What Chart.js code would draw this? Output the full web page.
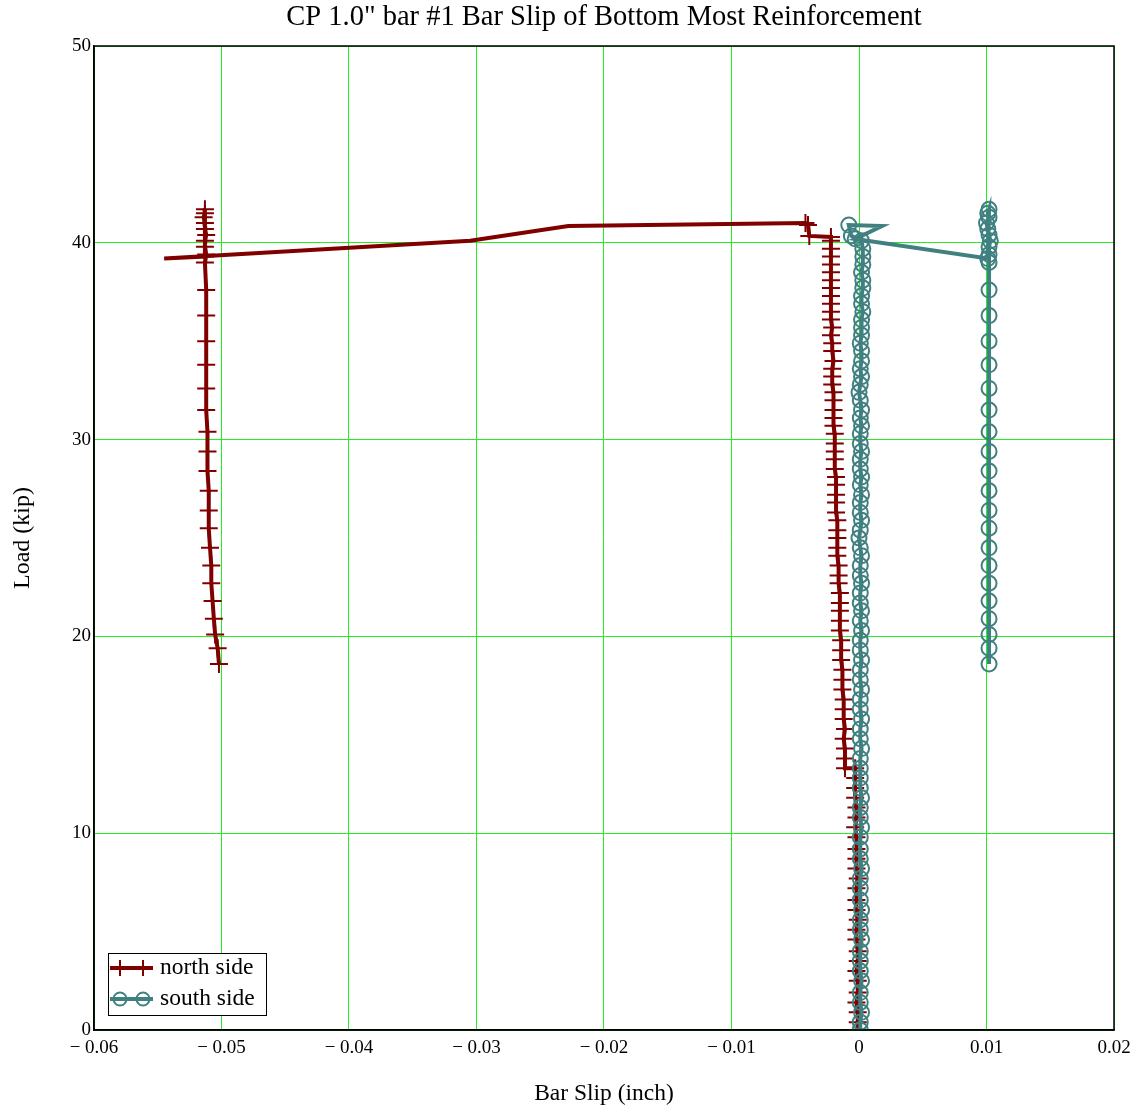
<!DOCTYPE html>
<html>
<head>
<meta charset="utf-8">
<script src="https://cdn.jsdelivr.net/npm/chart.js@4.4.1/dist/chart.umd.min.js"></script>
<style>
  html, body { margin: 0; padding: 0; background: #fff; }
  #wrap { width: 1141px; height: 1112px; }
</style>
</head>
<body>
<div id="wrap"><canvas id="myChart" width="1141" height="1112"></canvas></div>
<script>
const titleText = 'CP 1.0" bar #1 Bar Slip of Bottom Most Reinforcement';
const xTitle = "Bar Slip (inch)";
const yTitle = "Load (kip)";
const seriesNames = ["north side", "south side"];
const xTicks = [-0.06, -0.05, -0.04, -0.03, -0.02, -0.01, 0, 0.01, 0.02];
const yTicks = [0, 10, 20, 30, 40, 50];

// north side: load (kip) and slip (inch), point by point
const northLoad = [
  0.0, 0.4, 0.9, 1.4, 1.9, 2.5, 3.0, 3.5, 4.0, 4.6, 5.1, 5.6, 6.1, 6.6, 7.2, 7.7, 8.2, 8.7, 9.2, 9.8, 10.3, 10.8, 11.3, 11.8, 12.3, 12.8, 13.3,
  13.3,
  13.8, 14.3, 14.8, 15.3, 15.8, 16.3, 16.8, 17.3,
  17.8, 18.3, 18.8, 19.3, 19.8, 20.3, 20.8, 21.3, 21.7, 22.2,
  22.7, 23.1, 23.6, 24.1, 24.5, 25.0, 25.4, 25.9, 26.3, 26.8, 27.2,
  27.7, 28.1, 28.5, 29.0, 29.4, 29.8, 30.3, 30.7, 31.1, 31.5, 32.0,
  32.4, 32.8, 33.2, 33.6, 34.0, 34.5, 34.9, 35.3, 35.7, 36.1, 36.5, 36.9,
  37.3, 37.7, 38.1, 38.5, 38.9, 39.3, 39.7, 40.1, 40.3,
  40.35, 40.9, 41.0,
  40.85, 40.1, 39.2,
  39.3,
  41.7, 41.5, 41.3, 41.0, 40.7, 40.4, 40.1, 39.8, 39.4, 39.0,
  37.6, 36.3, 35.0, 33.8, 32.6, 31.5, 30.4, 29.4, 28.4, 27.4,
  26.4, 25.5, 24.5, 23.6, 22.7, 21.8, 20.9, 20.1, 19.4, 18.6
];
const northSlip = [
  -0.0001, -0.0001, -0.0001, -0.0002, -0.0001, -0.0001, -0.0002, -0.0001, -0.0001, -0.0002, -0.0002, -0.0001, -0.0002, -0.0002, -0.0002, -0.0001, -0.0002, -0.0002, -0.0002, -0.0002, -0.0003, -0.0002, -0.0002, -0.0003, -0.0003, -0.0003, -0.0003,
  -0.0011,
  -0.0011, -0.0011, -0.0012, -0.0011, -0.0012, -0.0012, -0.0012, -0.0013,
  -0.0013, -0.0013, -0.0014, -0.0014, -0.0014, -0.0015, -0.0015, -0.0015, -0.0015, -0.0015,
  -0.0016, -0.0016, -0.0016, -0.0017, -0.0017, -0.0017, -0.0017, -0.0017, -0.0018, -0.0018, -0.0018,
  -0.0018, -0.0018, -0.0019, -0.0019, -0.0019, -0.0019, -0.0019, -0.0020, -0.0020, -0.0020, -0.0020,
  -0.0020, -0.0021, -0.0021, -0.0021, -0.0020, -0.0021, -0.0021, -0.0022, -0.0021, -0.0022, -0.0022, -0.0022,
  -0.0022, -0.0022, -0.0022, -0.0022, -0.0022, -0.0022, -0.0022, -0.0022, -0.0022,
  -0.0039, -0.0040, -0.0042,
  -0.0228, -0.0305, -0.0545,
  -0.0513,
  -0.0513, -0.0513, -0.0514, -0.0513, -0.0513, -0.0512, -0.0513, -0.0513, -0.0512, -0.0513,
  -0.0512, -0.0512, -0.0512, -0.0512, -0.0512, -0.0512, -0.0511, -0.0511, -0.0511, -0.0510,
  -0.0510, -0.0510, -0.0509, -0.0508, -0.0508, -0.0507, -0.0506, -0.0505, -0.0503, -0.0502
];

// south side
const southLoad = [
  0.0, 0.4, 0.9, 1.4, 1.9, 2.5, 3.0, 3.5, 4.0, 4.6, 5.1, 5.6, 6.1, 6.6, 7.2, 7.7, 8.2, 8.7, 9.2, 9.8, 10.3, 10.8, 11.3, 11.8, 12.3, 12.8, 13.3,
  13.8, 14.3, 14.8, 15.3, 15.8, 16.3, 16.8, 17.3,
  17.8, 18.3, 18.8, 19.3, 19.8, 20.3, 20.8, 21.3, 21.7, 22.2,
  22.7, 23.1, 23.6, 24.1, 24.5, 25.0, 25.4, 25.9, 26.3, 26.8, 27.2,
  27.7, 28.1, 28.5, 29.0, 29.4, 29.8, 30.3, 30.7, 31.1, 31.5, 32.0,
  32.4, 32.8, 33.2, 33.6, 34.0, 34.5, 34.9, 35.3, 35.7, 36.1, 36.5, 36.9,
  37.3, 37.7, 38.1, 38.5, 38.9, 39.3, 39.7, 40.1,
  40.35, 40.9, 40.85, 40.2, 39.2,
  41.7, 41.5, 41.3, 41.0, 40.7, 40.4, 40.1, 39.8, 39.4, 39.0,
  37.6, 36.3, 35.0, 33.8, 32.6, 31.5, 30.4, 29.4, 28.4, 27.4,
  26.4, 25.5, 24.5, 23.6, 22.7, 21.8, 20.9, 20.1, 19.4, 18.6
];
const southSlip = [
  0.0001, 0.0001, 0.0002, 0.0001, 0.0001, 0.0002, 0.0001, 0.0001, 0.0001, 0.0002, 0.0001, 0.0001, 0.0002, 0.0001, 0.0001, 0.0001, 0.0002, 0.0001, 0.0001, 0.0001, 0.0002, 0.0001, 0.0001, 0.0002, 0.0001, 0.0001, 0.0001,
  0.0001, 0.0002, 0.0001, 0.0001, 0.0002, 0.0001, 0.0001, 0.0002,
  0.0001, 0.0001, 0.0002, 0.0001, 0.0001, 0.0002, 0.0001, 0.0002, 0.0001, 0.0001,
  0.0002, 0.0001, 0.0001, 0.0002, 0.0001, 0.0000, 0.0001, 0.0002, 0.0001, 0.0001, 0.0002,
  0.0001, 0.0002, 0.0001, 0.0001, 0.0002, 0.0001, 0.0001, 0.0002, 0.0001, 0.0002, 0.0001,
  0.0000, 0.0001, 0.0002, 0.0001, 0.0002, 0.0002, 0.0001, 0.0002, 0.0002, 0.0002, 0.0003, 0.0002,
  0.0002, 0.0003, 0.0003, 0.0002, 0.0003, 0.0003, 0.0003, 0.0002,
  -0.0006, -0.0008, 0.0018, -0.0003, 0.0101,
  0.0102, 0.0101, 0.0102, 0.0100, 0.0101, 0.0102, 0.0103, 0.0102, 0.0102, 0.0102,
  0.0102, 0.0102, 0.0102, 0.0102, 0.0102, 0.0102, 0.0102, 0.0102, 0.0102, 0.0102,
  0.0102, 0.0102, 0.0102, 0.0102, 0.0102, 0.0102, 0.0102, 0.0102, 0.0102, 0.0102
];

const northColor = "#800000";
const southColor = "#408080";
const gridColor = "#22ee22";
const serif = "'Liberation Serif', 'Times New Roman', serif";

function toPoints(xs, ys) {
  return xs.map((x, i) => ({ x, y: ys[i] }));
}

function formatSlip(v) {
  if (Math.abs(v) < 1e-9) return "0";
  const s = Math.abs(v).toFixed(2);
  return v < 0 ? "\u2212 " + s : s;
}

// frame, title (centred over the plot) and the legend box
const decorations = {
  id: "decorations",
  afterDraw(chart) {
    const c = chart.ctx;
    const a = chart.chartArea;
    c.save();
    c.strokeStyle = "#000";
    c.lineWidth = 1.5;
    c.strokeRect(a.left, a.top, a.right - a.left, a.bottom - a.top);

    c.fillStyle = "#000";
    c.font = "28.5px " + serif;
    c.textAlign = "center";
    c.textBaseline = "middle";
    c.fillText(titleText, (a.left + a.right) / 2, 18);

    const bx = 108.5, by = 953.5, bw = 158, bh = 62;
    c.fillStyle = "#fff";
    c.fillRect(bx, by, bw, bh);
    c.lineWidth = 1;
    c.strokeRect(bx, by, bw, bh);

    const rows = [
      { y: 968, color: northColor, type: "cross", label: seriesNames[0] },
      { y: 999, color: southColor, type: "circle", label: seriesNames[1] },
    ];
    rows.forEach((r) => {
      c.strokeStyle = r.color;
      c.lineWidth = 4;
      c.beginPath();
      c.moveTo(110, r.y);
      c.lineTo(153, r.y);
      c.stroke();
      [120, 143].forEach((mx) => {
        c.lineWidth = 2;
        c.beginPath();
        if (r.type === "cross") {
          c.moveTo(mx - 9, r.y);
          c.lineTo(mx + 9, r.y);
          c.moveTo(mx, r.y - 8);
          c.lineTo(mx, r.y + 8);
        } else {
          c.arc(mx, r.y, 6.5, 0, Math.PI * 2);
        }
        c.stroke();
      });
      c.fillStyle = "#000";
      c.font = "23.5px " + serif;
      c.textBaseline = "middle";
      c.textAlign = "left";
      c.fillText(r.label, 160, r.y);
    });
    c.restore();
  },
};

new Chart(document.getElementById("myChart"), {
  type: "scatter",
  data: {
    datasets: [
      {
        label: seriesNames[1],
        data: toPoints(southSlip, southLoad),
        showLine: true,
        order: 0,
        borderColor: southColor,
        borderWidth: 4,
        tension: 0,
        pointStyle: "circle",
        pointRadius: (ctx) => {
          const p = ctx.raw;
          return p && p.x > 0.001 && p.x < 0.009 ? 0 : 7.5;
        },
        pointBorderColor: southColor,
        pointBackgroundColor: "rgba(0,0,0,0)",
        pointBorderWidth: 2,
        clip: 0,
      },
      {
        label: seriesNames[0],
        data: toPoints(northSlip, northLoad),
        showLine: true,
        order: 1,
        borderColor: northColor,
        borderWidth: 4,
        tension: 0,
        pointStyle: "cross",
        pointRadius: (ctx) => {
          const p = ctx.raw;
          if (!p) return 9;
          return (p.x < -0.006 && p.x > -0.05) || p.x < -0.054 ? 0 : 9;
        },
        pointBorderColor: northColor,
        pointBackgroundColor: northColor,
        pointBorderWidth: 2,
        clip: 0,
      },
    ],
  },
  options: {
    responsive: false,
    animation: false,
    events: [],
    layout: { padding: { top: 46, right: 27, bottom: 0, left: 0 } },
    plugins: {
      legend: { display: false },
      tooltip: { enabled: false },
      title: { display: false },
    },
    scales: {
      x: {
        type: "linear",
        min: xTicks[0],
        max: xTicks[xTicks.length - 1],
        afterBuildTicks: (scale) => {
          scale.ticks = xTicks.map((v) => ({ value: v }));
        },
        afterFit: (scale) => {
          scale.height = 82;
        },
        grid: { color: gridColor, lineWidth: 1, drawTicks: false },
        border: { color: "#000", width: 1.5 },
        ticks: {
          color: "#000",
          padding: 7,
          font: { family: serif, size: 19 },
          maxRotation: 0,
          callback: (v) => formatSlip(v),
        },
        title: {
          display: true,
          text: xTitle,
          color: "#000",
          font: { family: serif, size: 23.5 },
          padding: { top: 0, bottom: 4 },
        },
      },
      y: {
        type: "linear",
        min: yTicks[0],
        max: yTicks[yTicks.length - 1],
        afterBuildTicks: (scale) => {
          scale.ticks = yTicks.map((v) => ({ value: v }));
        },
        afterFit: (scale) => {
          scale.width = 94;
        },
        grid: { color: gridColor, lineWidth: 1, drawTicks: false },
        border: { color: "#000", width: 1.5 },
        ticks: {
          color: "#000",
          padding: 3,
          font: { family: serif, size: 19 },
          callback: (v) => String(v),
        },
        title: {
          display: true,
          text: yTitle,
          color: "#000",
          font: { family: serif, size: 24 },
          padding: { top: 8, bottom: 0 },
        },
      },
    },
  },
  plugins: [decorations],
});
</script>
</body>
</html>
